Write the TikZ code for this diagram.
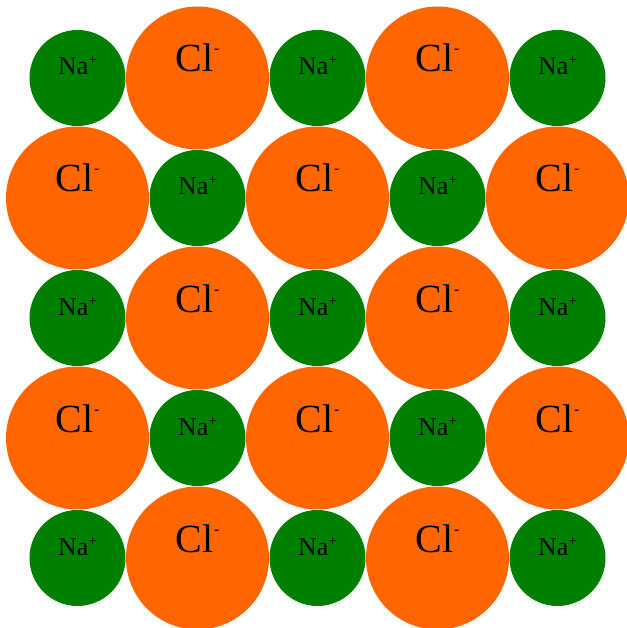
\documentclass[tikz,border=0pt]{standalone}
\usepackage{fontspec}
\setmainfont{Liberation Serif}
\usepackage{tikz}
\definecolor{clorange}{HTML}{FF6600}
\definecolor{nagreen}{HTML}{008000}
\tikzset{
  na/.style={circle,fill=nagreen,minimum size=96pt,inner sep=0pt,
    text height=0pt,text depth=6pt,font=\fontsize{26}{26}\selectfont},
  cl/.style={circle,fill=clorange,minimum size=143pt,inner sep=0pt,
    text height=0pt,text depth=12pt,font=\fontsize{40}{40}\selectfont}
}
\newcommand{\Na}{Na\kern0.5pt\raisebox{10pt}{\fontsize{14}{14}\selectfont +}}
\newcommand{\Cl}{Cl\kern1pt\raisebox{18pt}{\fontsize{16}{16}\selectfont -}}

\begin{document}
\begin{tikzpicture}[x=1pt,y=1pt]
\useasboundingbox (0,0) rectangle (626,-628);
% row 1
\node[na] (na11) at (77.5,-78) {\Na};
\node[cl] (cl12) at (197.5,-78) {\Cl};
\node[na] (na13) at (317.5,-78) {\Na};
\node[cl] (cl14) at (437.5,-78) {\Cl};
\node[na] (na15) at (557.5,-78) {\Na};
% row 2
\node[cl] (cl21) at (77.5,-198) {\Cl};
\node[na] (na22) at (197.5,-198) {\Na};
\node[cl] (cl23) at (317.5,-198) {\Cl};
\node[na] (na24) at (437.5,-198) {\Na};
\node[cl] (cl25) at (557.5,-198) {\Cl};
% row 3
\node[na] (na31) at (77.5,-318) {\Na};
\node[cl] (cl32) at (197.5,-318) {\Cl};
\node[na] (na33) at (317.5,-318) {\Na};
\node[cl] (cl34) at (437.5,-318) {\Cl};
\node[na] (na35) at (557.5,-318) {\Na};
% row 4
\node[cl] (cl41) at (77.5,-438) {\Cl};
\node[na] (na42) at (197.5,-438) {\Na};
\node[cl] (cl43) at (317.5,-438) {\Cl};
\node[na] (na44) at (437.5,-438) {\Na};
\node[cl] (cl45) at (557.5,-438) {\Cl};
% row 5
\node[na] (na51) at (77.5,-558) {\Na};
\node[cl] (cl52) at (197.5,-558) {\Cl};
\node[na] (na53) at (317.5,-558) {\Na};
\node[cl] (cl54) at (437.5,-558) {\Cl};
\node[na] (na55) at (557.5,-558) {\Na};
\end{tikzpicture}
\end{document}
